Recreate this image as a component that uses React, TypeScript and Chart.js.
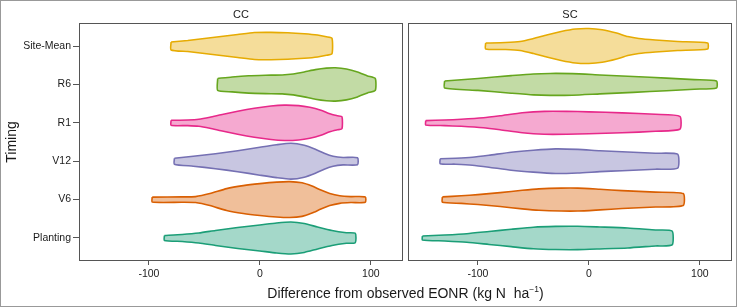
import React, { useEffect, useRef } from "react";
import { Chart, registerables } from "chart.js";

Chart.register(...registerables);

// ---------- data ----------
const timings = ["Site-Mean", "R6", "R1", "V12", "V6", "Planting"];
const xTickValues = [-100, 0, 100];
const xMin = -163;
const xMax = 129;

// violin outlines: [difference from observed EONR (kg N/ha), density (half-width)]
const ccSiteMean = [[-80, 4], [-65, 5.5], [-50, 7.5], [-35, 9.5], [-20, 11.5], [-5, 13.5], [10, 13.7], [25, 13.3], [40, 12.3], [52, 11], [60, 9.3], [65, 7.8]];
const ccR6 = [[-38, 6], [-25, 7.5], [-10, 8.7], [5, 9.2], [20, 9.5], [30, 10.5], [40, 12.5], [50, 14.8], [60, 16.3], [68, 16.7], [78, 15.5], [88, 12.5], [97, 8.5], [104, 6]];
const ccR1 = [[-80, 2.5], [-65, 2.8], [-55, 3.5], [-45, 5.5], [-35, 8], [-20, 11.5], [-5, 14.5], [10, 16.8], [22, 17.7], [35, 17.2], [45, 15.5], [55, 12.5], [63, 9], [70, 7], [74, 6]];
const ccV12 = [[-77, 3], [-60, 5], [-40, 7.5], [-20, 10.5], [0, 14], [15, 16.5], [28, 18], [40, 16], [50, 12], [58, 8], [66, 5], [75, 3.7], [88, 3.5]];
const ccV6 = [[-97, 2.5], [-70, 2.7], [-58, 3], [-45, 6], [-30, 11], [-15, 14], [0, 16], [15, 17.5], [27, 18], [38, 16.8], [47, 13.5], [55, 9.5], [63, 6], [72, 3.8], [82, 3], [95, 2.7]];
const ccPlanting = [[-86, 2.5], [-70, 3.5], [-55, 5], [-40, 7.5], [-20, 10.5], [0, 13], [15, 15], [28, 16], [40, 14.5], [52, 11], [65, 7.5], [78, 5.3], [86, 4.7]];

const scSiteMean = [[-93, 3], [-75, 3.5], [-62, 4.5], [-50, 7.5], [-38, 11], [-25, 14.5], [-12, 17], [0, 17.5], [12, 16.3], [25, 13], [35, 9.5], [45, 7.5], [60, 6], [80, 4.5], [107, 3]];
const scR6 = [[-130, 3.5], [-100, 6], [-70, 8.8], [-50, 10.5], [-35, 11], [-15, 10.8], [10, 9.5], [40, 8], [70, 6.3], [95, 4.8], [115, 3.5]];
const scR1 = [[-147, 2.2], [-130, 2.8], [-115, 3.5], [-95, 5], [-80, 7], [-60, 10], [-40, 11.5], [-20, 11.5], [0, 11], [30, 10], [60, 8.5], [82, 6.5]];
const scV12 = [[-134, 2.5], [-120, 3], [-105, 4], [-90, 6], [-70, 9], [-50, 11], [-30, 12.3], [-10, 11.8], [10, 10.5], [30, 9.5], [60, 8], [80, 7]];
const scV6 = [[-132, 2.7], [-115, 3.8], [-100, 5], [-80, 7], [-60, 9.3], [-45, 10.7], [-25, 11.5], [-10, 11.5], [10, 10.3], [30, 9], [60, 7.5], [85, 6]];
const scPlanting = [[-150, 2], [-130, 3], [-110, 4.3], [-90, 6.5], [-70, 8.7], [-50, 10.8], [-30, 11.6], [-10, 11.7], [10, 11], [35, 10], [60, 8], [75, 7]];

const ccViolins = [ccSiteMean, ccR6, ccR1, ccV12, ccV6, ccPlanting];
const scViolins = [scSiteMean, scR6, scR1, scV12, scV6, scPlanting];

// ---------- styles ----------
const strokeColors = ["#E6AB02", "#66A61E", "#E7298A", "#7570B3", "#D95F02", "#1B9E77"];
const fillColors = ["#F5DD9A", "#C2DBA5", "#F5A9D0", "#C8C6E1", "#F0BF9A", "#A4D8C9"];
const DENSITY_SCALE = 0.026; // category units per density unit
const FONT = "'Liberation Sans', Arial, Helvetica, sans-serif";
const TEXT = "#1a1a1a";
const LINE = "#555555";

function violinPoints(pairs: number[][], pos: number) {
  const upper = pairs.map(([x, d]) => ({ x, y: pos - d * DENSITY_SCALE }));
  const lower = pairs
    .slice()
    .reverse()
    .map(([x, d]) => ({ x, y: pos + d * DENSITY_SCALE }));
  return [...upper, ...lower, upper[0]];
}

const borderPlugin = {
  id: "panelBorder",
  afterDatasetsDraw(chart: any) {
    const { ctx, chartArea } = chart;
    ctx.save();
    ctx.strokeStyle = LINE;
    ctx.lineWidth = 1;
    ctx.strokeRect(
      Math.round(chartArea.left) + 0.5,
      Math.round(chartArea.top) + 0.5,
      Math.round(chartArea.right - chartArea.left) - 1,
      Math.round(chartArea.bottom - chartArea.top) - 1
    );
    ctx.restore();
  },
};

function Panel(props: { title: string; violins: number[][][]; showY: boolean; left: number; width: number }) {
  const ref = useRef<HTMLCanvasElement | null>(null);
  useEffect(() => {
    if (!ref.current) return;
    const { title, violins, showY } = props;
    const chart = new Chart(ref.current, {
      type: "scatter",
      data: {
        datasets: violins.map((pairs, i) => ({
          label: timings[i],
          data: violinPoints(pairs, i + 1),
          showLine: true,
          fill: "shape",
          borderColor: strokeColors[i],
          backgroundColor: fillColors[i],
          borderWidth: 1.6,
          pointRadius: 0,
          pointHoverRadius: 0,
          tension: 0.2,
        })),
      } as any,
      options: {
        animation: false,
        responsive: false,
        maintainAspectRatio: false,
        layout: {
          padding: showY ? { left: 0, right: 2, top: 0, bottom: 0 } : { left: 4, right: 5, top: 0, bottom: 0 },
        },
        plugins: {
          legend: { display: false },
          tooltip: { enabled: false },
          title: {
            display: true,
            text: title,
            fullSize: false,
            color: TEXT,
            font: { family: FONT, size: 11, weight: "normal", lineHeight: 1.2 },
            padding: { top: 8, bottom: 1.8 },
          },
        },
        scales: {
          x: {
            type: "linear",
            min: xMin,
            max: xMax,
            afterBuildTicks: (s: any) => {
              s.ticks = xTickValues.map((v) => ({ value: v }));
            },
            afterFit: (s: any) => {
              s.height = 46;
            },
            grid: { display: true, drawOnChartArea: false, drawTicks: true, tickLength: 4, color: LINE, tickColor: LINE },
            border: { display: false },
            ticks: {
              color: TEXT,
              font: { family: FONT, size: 10.5 },
              padding: 3,
              maxRotation: 0,
              callback: (v: any) => String(v),
            },
          },
          y: {
            type: "linear",
            reverse: true,
            min: 0.4,
            max: 6.6,
            display: showY,
            afterBuildTicks: (s: any) => {
              s.ticks = timings.map((_, i) => ({ value: i + 1 }));
            },
            afterFit: (s: any) => {
              s.width = showY ? 79 : 0;
            },
            grid: { display: true, drawOnChartArea: false, drawTicks: true, tickLength: 6, color: LINE, tickColor: LINE },
            border: { display: false },
            ticks: {
              color: TEXT,
              font: { family: FONT, size: 10.5 },
              padding: 2,
              callback: (v: any) => timings[Math.round(v) - 1] ?? "",
            },
            title: {
              display: true,
              text: "Timing",
              color: TEXT,
              font: { family: FONT, size: 14, lineHeight: 1.2 },
              padding: { top: 4, bottom: 0 },
            },
          },
        },
      } as any,
      plugins: [borderPlugin],
    });
    return () => chart.destroy();
  }, []);
  return (
    <canvas
      ref={ref}
      width={props.width}
      height={307}
      style={{ position: "absolute", left: props.left, top: 0, width: props.width, height: 307 }}
    />
  );
}

export default function App() {
  return (
    <div
      style={{
        position: "fixed",
        left: 0,
        top: 0,
        width: 737,
        height: 307,
        background: "#ffffff",
        overflow: "hidden",
      }}
    >
      <Panel title="CC" violins={ccViolins} showY={true} left={0} width={405} />
      <Panel title="SC" violins={scViolins} showY={false} left={404} width={333} />
      <div
        style={{
          position: "absolute",
          left: 79,
          width: 653,
          top: 284,
          textAlign: "center",
          fontFamily: FONT,
          fontSize: 14,
          lineHeight: "18px",
          color: TEXT,
          whiteSpace: "pre",
        }}
      >
        {"Difference from observed EONR (kg N  ha"}
        <sup style={{ fontSize: 8.5, lineHeight: 0, verticalAlign: "6px" }}>−1</sup>
        {")"}
      </div>
      <div
        style={{
          position: "absolute",
          left: 0,
          top: 0,
          width: 737,
          height: 307,
          boxSizing: "border-box",
          border: "1px solid #999999",
          pointerEvents: "none",
        }}
      />
    </div>
  );
}
